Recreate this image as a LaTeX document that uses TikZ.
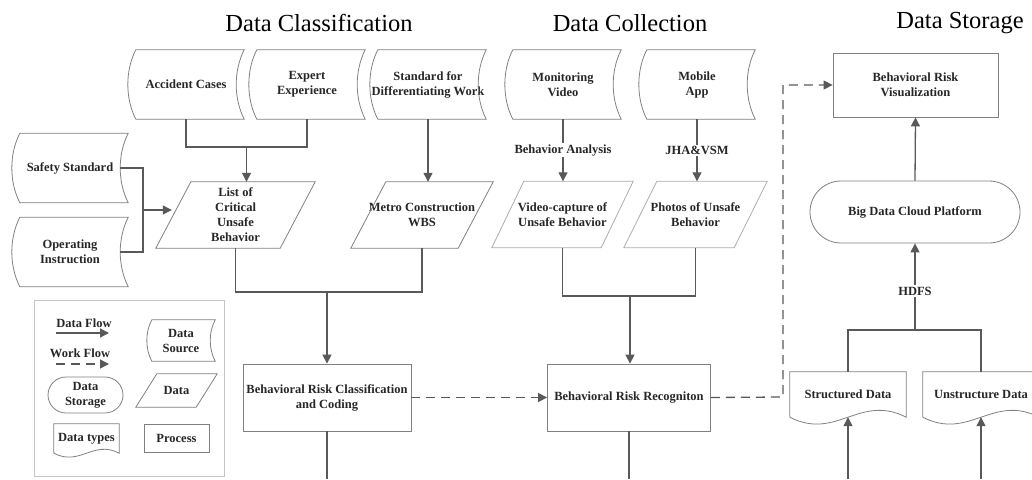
\documentclass[tikz,border=0pt]{standalone}
\usepackage{fontspec}
\setmainfont{Liberation Serif}
\usetikzlibrary{arrows.meta,positioning,calc}
\definecolor{linegray}{HTML}{595959}
\definecolor{edgegray}{HTML}{808080}
\definecolor{txtgray}{HTML}{262626}
\tikzstyle{every node}=[font=\bfseries\fontsize{12.5}{15}\selectfont, text=txtgray, align=center]
\tikzstyle{titletext} = [font=\fontsize{24.5}{28}\selectfont, text=black]
\tikzstyle{edgeline} = [draw=edgegray, line width=0.8pt]
\tikzstyle{srcblock} = [rectangle, inner sep=0pt, minimum width=116pt, minimum height=69pt]
\tikzstyle{datablock} = [rectangle, inner sep=0pt, minimum height=66pt]
\tikzstyle{procblock} = [rectangle, edgeline, inner sep=0pt, minimum width=165pt, minimum height=66pt]
\tikzstyle{storeblock} = [rectangle, edgeline, rounded corners=31pt, inner sep=0pt,
    minimum width=210pt, minimum height=62pt]
\tikzstyle{docblock} = [rectangle, inner sep=0pt, minimum width=116pt, minimum height=45pt]
\tikzstyle{dataline} = [draw=linegray, line width=1.3pt]
\tikzstyle{dataflow} = [dataline, -{Triangle[length=9pt,width=9pt]}]
\tikzstyle{workflow} = [dataflow, dash pattern=on 9pt off 6pt]
\tikzstyle{onlabel} = [fill=white, inner sep=1.5pt]

% data source outline: curved sides, #1 = bulge
\newcommand{\srcshape}[2][8]{%
  \draw[edgeline] ($(#2.north west)+(#1,0)$) -- (#2.north east)
    .. controls ($(#2.north east)!0.3!(#2.south east)+(-1.33*#1,0)$)
    and ($(#2.south east)!0.3!(#2.north east)+(-1.33*#1,0)$) .. (#2.south east)
    -- ($(#2.south west)+(#1,0)$)
    .. controls ($(#2.south west)!0.3!(#2.north west)+(-0.33*#1,0)$)
    and ($(#2.north west)!0.3!(#2.south west)+(-0.33*#1,0)$) .. cycle;}
% data outline: parallelogram, #1 = slant
\newcommand{\parashape}[3][35]{%
  \draw[edgeline, #3] ($(#2.north west)+(#1,0)$) -- (#2.north east)
    -- ($(#2.south east)+(-#1,0)$) -- (#2.south west) -- cycle;}
% document outline: wavy bottom, #1 = wave height
\newcommand{\docshape}[2][7]{%
  \draw[edgeline] (#2.south west) -- (#2.north west) -- (#2.north east) -- (#2.south east)
    .. controls ($(#2.south east)!0.4!(#2.south west)+(0,-3.4*#1)$)
    and ($(#2.south west)!0.4!(#2.south east)+(0,3.4*#1)$) .. (#2.south west);}

\begin{document}
\begin{tikzpicture}[x=1pt, y=-1pt]
	\useasboundingbox (0,0) rectangle (1032,479);
	% Titles
	\node[titletext] (tclass) at (319,23) {Data Classification};
	\node[titletext] (tcoll) at (630,23) {Data Collection};
	\node[titletext] (tstor) at (960,23) {Data Storage};

	% Data sources
	\node[srcblock] (acc) at (186,84.5) {Accident Cases};
	\node[srcblock] (exp) at (307,84.5) {Expert\\Experience};
	\node[srcblock] (std) at (428,84.5) {Standard for\\Differentiating Work};
	\node[srcblock] (mon) at (563,84.5) {Monitoring\\Video};
	\node[srcblock] (app) at (697,84.5) {Mobile\\App};
	\node[srcblock] (safe) at (70,168) {Safety Standard};
	\node[srcblock] (oper) at (70,252) {Operating\\Instruction};
	\foreach \n in {acc,exp,std,mon,app,safe,oper} \srcshape{\n};

	% Data
	\node[datablock, minimum width=159pt] (list) at (235.5,215) {List of\\Critical\\Unsafe\\Behavior};
	\node[datablock, minimum width=142pt] (wbs) at (422,215) {Metro Construction\\WBS};
	\node[datablock, minimum width=141pt] (video) at (562.5,214.5) {Video-capture of\\Unsafe Behavior};
	\node[datablock, minimum width=143pt] (photo) at (695.5,214.5) {Photos of Unsafe\\Behavior};
	\parashape{list}{};
	\parashape{wbs}{};
	\parashape[32]{video}{draw=edgegray!65};
	\parashape[33]{photo}{draw=edgegray!65};

	% Process and storage
	\node[procblock, minimum width=168pt, minimum height=67pt] (classif) at (327,397.5) {Behavioral Risk Classification\\and Coding};
	\node[procblock, minimum width=163pt, minimum height=67pt] (recog) at (629,397.5) {Behavioral Risk Recogniton};
	\node[procblock, minimum height=64pt] (vis) at (915.5,85) {Behavioral Risk\\Visualization};
	\node[storeblock] (cloud) at (915,212) {Big Data Cloud Platform};
	\node[docblock] (struct) at (848,394.5) {Structured Data};
	\node[docblock] (unstr) at (981,394.5) {Unstructure Data};
	\docshape{struct};
	\docshape{unstr};

	% Legend
	\node[draw=gray!45, line width=0.8pt, minimum width=190pt, minimum height=176pt] (legend) at (129,388) {};
	\node (dflab) at (84,323) {Data Flow};
	\coordinate (dfa) at (56,333);
	\coordinate (dfb) at (109,333);
	\draw[dataflow] (dfa) -- (dfb);
	\node (wflab) at (80,353) {Work Flow};
	\coordinate (wfa) at (56,364);
	\coordinate (wfb) at (109,364);
	\draw[workflow] (wfa) -- (wfb);
	\node[srcblock, minimum width=68pt, minimum height=41pt] (lsrc) at (181,340.5) {Data\\Source};
	\srcshape[5]{lsrc};
	\node[storeblock, rounded corners=18pt, minimum width=75pt, minimum height=36pt] (lstore) at (85.5,395) {Data\\Storage};
	\node[datablock, minimum width=81pt, minimum height=33pt] (ldata) at (176.5,390.5) {Data};
	\parashape[21]{ldata}{};
	\node[docblock, minimum width=65pt, minimum height=29pt] (ldoc) at (86.5,438.5) {Data types};
	\docshape[4]{ldoc};
	\node[procblock, minimum width=65pt, minimum height=28pt] (lproc) at (176.5,438) {Process};

	% Connectors
	\coordinate (jA) at (246.5,147);
	\draw[dataline] (acc.south) |- (jA) -| (exp.south);
	\draw[dataflow] (jA) -- (jA |- list.north);
	\draw[dataflow] (std.south) -- (std.south |- wbs.north);
	\coordinate (jB) at (143,210);
	\draw[dataline] ([xshift=-8pt]safe.east) -| (jB) |- ([xshift=-8pt]oper.east);
	\draw[dataflow] (jB) -- ([xshift=16pt]jB -| list.west);
	\coordinate (jC) at (327,292);
	\draw[dataline] (list.south) |- (jC) -| (wbs.south);
	\draw[dataflow] (jC) -- (classif.north);

	\draw[dataflow] (mon.south) -- node[onlabel] {Behavior Analysis} (mon.south |- video.north);
	\draw[dataflow] (app.south) -- node[onlabel] {JHA\&VSM} (app.south |- photo.north);
	\coordinate (jD) at (630,296);
	\draw[dataline] (video.south) |- (jD) -| (photo.south);
	\draw[dataflow] (jD) -- (jD |- recog.north);

	\coordinate (bot) at (0,479);
	\draw[dataline] (classif.south) -- (classif.south |- bot);
	\draw[dataline] (recog.south) -- (recog.south |- bot);
	\draw[workflow] (classif.east) -- (recog.west);
	\coordinate (jE) at (783,397);
	\draw[workflow] (recog.east) -- (jE) |- (vis.west);

	\draw[dataflow] (cloud.north) -- (vis.south);
	\coordinate (jF) at (915,330);
	\draw[dataline] (struct.north) |- (jF) -| (unstr.north);
	\draw[dataflow] (jF) -- node[onlabel, pos=0.45] {HDFS} (cloud.south);
	\draw[dataflow] (struct.south |- bot) -- (struct.south);
	\draw[dataflow] (unstr.south |- bot) -- (unstr.south);
\end{tikzpicture}
\end{document}
